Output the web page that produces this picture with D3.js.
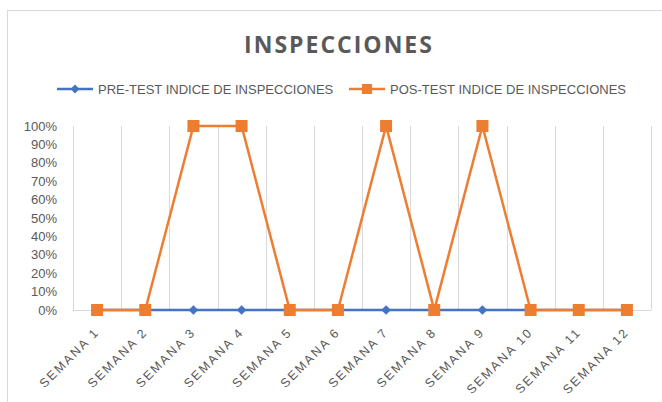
<!DOCTYPE html>
<html><head><meta charset="utf-8">
<script src="https://cdn.jsdelivr.net/npm/d3@7"></script>
<style>body{margin:0;background:#fff}svg{display:block}</style>
</head><body>
<svg id="c" width="662" height="402"></svg>
<script>
const categories = ["SEMANA 1","SEMANA 2","SEMANA 3","SEMANA 4","SEMANA 5","SEMANA 6","SEMANA 7","SEMANA 8","SEMANA 9","SEMANA 10","SEMANA 11","SEMANA 12"];
const preTest = [0,0,0,0,0,0,0,0,0,0,0,0];
const posTest = [0,0,1,1,0,0,1,0,1,0,0,0];
const yTicks = [0,0.1,0.2,0.3,0.4,0.5,0.6,0.7,0.8,0.9,1];
const seriesNames = ["PRE-TEST INDICE DE INSPECCIONES","POS-TEST INDICE DE INSPECCIONES"];
const titleText = "INSPECCIONES";

const svg = d3.select("#c");
const blue = "#4472C4", orange = "#ED7D31", txt = "#595959", grid = "#D9D9D9";
const font = "'Liberation Sans', Arial, sans-serif";

// chart border
svg.append("rect").attr("x",7.5).attr("y",10.5).attr("width",700).attr("height",500)
  .attr("fill","#fff").attr("stroke","#D9D9D9").attr("stroke-width",1);

const x = d3.scaleBand().domain(categories).range([73,651]);
const y = d3.scaleLinear().domain([0,1]).range([310,126]);

// vertical gridlines at category boundaries
const bounds = categories.map(c=>x(c)).concat([x.range()[1]]);
svg.append("g").selectAll("line").data(bounds).join("line")
  .attr("x1",d=>Math.round(d)+0.5).attr("x2",d=>Math.round(d)+0.5)
  .attr("y1",y(1)).attr("y2",y(0))
  .attr("stroke",grid).attr("stroke-width",1);
// baseline
svg.append("line").attr("x1",x.range()[0]).attr("x2",x.range()[1])
  .attr("y1",y(0)+0.5).attr("y2",y(0)+0.5).attr("stroke",grid).attr("stroke-width",1);

// y axis labels
const yAxis = d3.axisLeft(y).tickValues(yTicks).tickFormat(d3.format(".0%")).tickSize(0).tickPadding(16);
const yg = svg.append("g").attr("transform",`translate(${x.range()[0]},0)`).call(yAxis);
yg.select(".domain").remove();
yg.selectAll("text").attr("fill",txt).style("font-family",font).style("font-size","13px");

// x axis labels
const xAxis = d3.axisBottom(x).tickSize(0).tickPadding(0);
const xg = svg.append("g").attr("transform",`translate(0,${y(0)})`).call(xAxis);
xg.select(".domain").remove();
xg.selectAll("text").attr("fill",txt).style("font-family",font).style("font-size","12.5px")
  .style("letter-spacing","2px")
  .attr("text-anchor","end").attr("dy","0").attr("y",0)
  .attr("transform","translate(3,23) rotate(-45)");

const cx = c => x(c)+x.bandwidth()/2;
const line = d3.line().x((d,i)=>cx(categories[i])).y(d=>y(d));

// pre-test
svg.append("path").datum(preTest).attr("d",line).attr("fill","none").attr("stroke",blue).attr("stroke-width",2.5);
svg.append("g").selectAll("path").data(preTest).join("path")
  .attr("d",d3.symbol(d3.symbolDiamond2 || d3.symbolDiamond, 60))
  .attr("transform",(d,i)=>`translate(${cx(categories[i])},${y(d)})`).attr("fill",blue);

// pos-test
svg.append("path").datum(posTest).attr("d",line).attr("fill","none").attr("stroke",orange).attr("stroke-width",2.5);
svg.append("g").selectAll("rect").data(posTest).join("rect")
  .attr("x",(d,i)=>cx(categories[i])-6).attr("y",d=>y(d)-6).attr("width",12).attr("height",12).attr("fill",orange);

// title
svg.append("text").attr("x",339).attr("y",53).attr("text-anchor","middle")
  .attr("fill",txt).style("font-family","'Open Sans', sans-serif").style("font-weight","bold")
  .style("font-size","23px").style("letter-spacing","2px").text(titleText);

// legend
const leg = [{name:seriesNames[0],color:blue,x0:57,type:"d"},{name:seriesNames[1],color:orange,x0:349,type:"s"}];
const lg = svg.append("g");
leg.forEach(l=>{
  lg.append("line").attr("x1",l.x0).attr("x2",l.x0+36).attr("y1",89).attr("y2",89).attr("stroke",l.color).attr("stroke-width",2.5);
  if(l.type==="d"){
    lg.append("path").attr("d",d3.symbol(d3.symbolDiamond2 || d3.symbolDiamond,50)).attr("transform",`translate(${l.x0+18},89)`).attr("fill",l.color);
  } else {
    lg.append("rect").attr("x",l.x0+13).attr("y",84).attr("width",10).attr("height",10).attr("fill",l.color);
  }
  lg.append("text").attr("x",l.x0+41).attr("y",94).attr("fill",txt)
    .style("font-family",font).style("font-size","13px").text(l.name);
});
</script>
</body></html>
